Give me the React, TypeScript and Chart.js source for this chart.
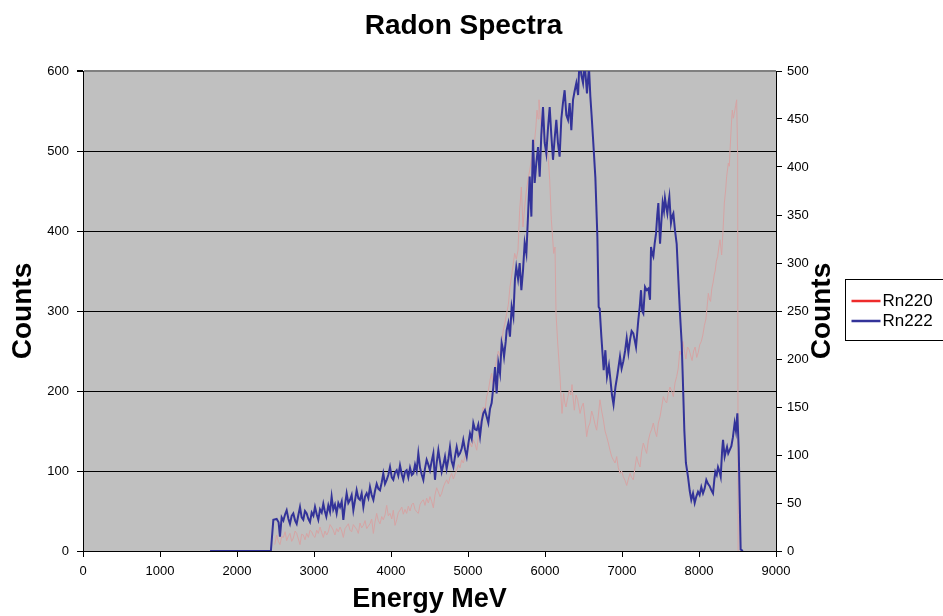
import { useEffect, useRef } from 'react';
import { Chart, registerables } from 'chart.js';

Chart.register(...registerables);

const FONT = "'Liberation Sans', Arial, Helvetica, sans-serif";

const chartTitle = 'Radon Spectra';
const xTitle = 'Energy MeV';
const yTitle = 'Counts';
const seriesNames = ['Rn220', 'Rn222'];

const xMin = 0, xMax = 9000, xStep = 1000;
const yMin = 0, yMax = 600, yStep = 100;
const y2Min = 0, y2Max = 500, y2Step = 50;

// Rn220 spectrum (energy MeV, counts)
const rn220Energy = [
  2490, 2515, 2537, 2558, 2580, 2602, 2625, 2645, 2668, 2688, 2710, 2731, 2755, 2775, 2797, 2818, 2840, 2861, 2883, 2905,
  2927, 2948, 2970, 2992, 3013, 3035, 3056, 3078, 3100, 3121, 3143, 3165, 3186, 3208, 3229, 3250, 3272, 3294, 3316, 3338,
  3360, 3381, 3403, 3424, 3446, 3468, 3489, 3511, 3532, 3554, 3576, 3597, 3619, 3641, 3663, 3684, 3706, 3727, 3749, 3771,
  3792, 3814, 3835, 3857, 3880, 3900, 3922, 3944, 3965, 3987, 4010, 4030, 4052, 4074, 4095, 4117, 4140, 4160, 4182, 4203,
  4225, 4247, 4270, 4290, 4312, 4333, 4355, 4377, 4398, 4420, 4441, 4463, 4485, 4506, 4528, 4550, 4571, 4593, 4615, 4636,
  4658, 4680, 4701, 4723, 4745, 4766, 4788, 4810, 4831, 4853, 4875, 4896, 4918, 4939, 4961, 4983, 5004, 5026, 5048, 5069,
  5091, 5113, 5134, 5156, 5178, 5199, 5220, 5242, 5264, 5286, 5307, 5329, 5351, 5372, 5394, 5416, 5437, 5459, 5480, 5502,
  5524, 5545, 5568, 5590, 5606, 5628, 5649, 5671, 5693, 5714, 5736, 5758, 5779, 5800, 5823, 5845, 5866, 5882, 5896, 5910,
  5922, 5937, 5952, 5974, 5996, 6010, 6026, 6045, 6061, 6082, 6100, 6113, 6130, 6143, 6165, 6195, 6210, 6221, 6242, 6258,
  6273, 6295, 6316, 6335, 6351, 6366, 6381, 6403, 6424, 6440, 6455, 6476, 6498, 6520, 6541, 6562, 6584, 6606, 6628, 6650,
  6671, 6693, 6714, 6736, 6758, 6780, 6801, 6823, 6844, 6866, 6887, 6910, 6931, 6952, 6974, 6995, 7017, 7040, 7061, 7083,
  7104, 7125, 7147, 7168, 7190, 7212, 7234, 7255, 7277, 7299, 7320, 7342, 7364, 7385, 7407, 7428, 7450, 7472, 7494, 7515,
  7537, 7558, 7580, 7602, 7623, 7645, 7667, 7688, 7710, 7730, 7750, 7770, 7790, 7810, 7830, 7850, 7870, 7890, 7910, 7930,
  7950, 7970, 7990, 8010, 8030, 8050, 8070, 8090, 8105, 8121, 8135, 8150, 8166, 8182, 8197, 8210, 8225, 8242, 8258, 8273,
  8294, 8312, 8329, 8345, 8359, 8381, 8394, 8403, 8424, 8433, 8446, 8459, 8476, 8489, 8502, 8508,
];
const rn220Counts = [
  8, 20, 12, 8, 18, 17, 24, 13, 19, 22, 12, 16, 25, 22, 15, 8, 21, 20, 14, 22,
  17, 26, 24, 19, 17, 26, 22, 30, 23, 17, 25, 20, 24, 33, 30, 26, 20, 28, 24, 30,
  25, 17, 28, 31, 34, 26, 24, 33, 30, 27, 22, 35, 29, 32, 38, 28, 31, 34, 40, 22,
  36, 47, 38, 34, 43, 39, 45, 57, 44, 47, 40, 51, 32, 39, 48, 51, 55, 46, 52, 47,
  56, 50, 58, 60, 52, 49, 47, 58, 62, 64, 57, 66, 60, 68, 62, 54, 70, 79, 74, 68,
  72, 80, 85, 89, 84, 92, 97, 90, 96, 101, 108, 104, 114, 110, 118, 122, 128, 135, 130, 139,
  134, 126, 142, 155, 168, 180, 175, 193, 200, 214, 222, 205, 228, 239, 250, 243, 262, 276, 285, 297,
  308, 330, 345, 360, 372, 365, 376, 426, 455, 405, 430, 450, 464, 475, 489, 500, 514, 530, 551, 540,
  564, 545, 530, 522, 518, 512, 505, 488, 464, 414, 390, 372, 380, 297, 260, 218, 190, 172, 197, 185,
  180, 192, 201, 195, 208, 190, 176, 195, 189, 180, 172, 180, 185, 165, 143, 155, 160, 175, 168, 158,
  151, 170, 189, 175, 164, 150, 143, 135, 126, 118, 114, 110, 118, 104, 97, 100, 93, 88, 82, 90,
  97, 92, 89, 104, 118, 110, 105, 124, 135, 128, 122, 138, 147, 152, 160, 150, 143, 160, 168, 180,
  193, 188, 185, 198, 205, 200, 193, 210, 218, 228, 250, 245, 262, 250, 240, 255, 252, 245, 238, 250,
  255, 242, 248, 258, 262, 270, 282, 290, 305, 322, 315, 312, 328, 335, 345, 350, 362, 368, 380, 389,
  370, 400, 435, 450, 468, 485, 481, 501, 539, 551, 541, 547, 557, 564, 497, 0,
];

// Rn222 spectrum (energy MeV, counts)
const rn222Energy = [
  1650, 2440, 2472, 2515, 2540, 2558, 2580, 2602, 2625, 2645, 2668, 2688, 2710, 2731, 2755, 2775, 2797, 2818, 2840, 2861,
  2883, 2905, 2927, 2948, 2970, 2992, 3013, 3035, 3056, 3078, 3100, 3121, 3140, 3160, 3186, 3208, 3229, 3250, 3272, 3294,
  3316, 3338, 3360, 3381, 3403, 3424, 3446, 3468, 3489, 3511, 3532, 3554, 3576, 3597, 3619, 3641, 3663, 3684, 3706, 3727,
  3749, 3771, 3792, 3814, 3835, 3857, 3880, 3900, 3922, 3944, 3965, 3987, 4010, 4030, 4052, 4074, 4095, 4117, 4140, 4160,
  4182, 4203, 4225, 4247, 4270, 4290, 4312, 4333, 4355, 4377, 4398, 4420, 4441, 4463, 4485, 4506, 4528, 4550, 4571, 4593,
  4615, 4636, 4658, 4680, 4701, 4723, 4745, 4766, 4788, 4810, 4831, 4853, 4875, 4896, 4918, 4939, 4961, 4983, 5004, 5026,
  5048, 5069, 5091, 5113, 5134, 5156, 5178, 5199, 5220, 5242, 5264, 5286, 5307, 5329, 5351, 5372, 5394, 5416, 5437, 5459,
  5468, 5490, 5502, 5524, 5545, 5567, 5589, 5610, 5627, 5650, 5671, 5693, 5714, 5736, 5758, 5780, 5801, 5823, 5844, 5866,
  5887, 5910, 5931, 5952, 5974, 5996, 6017, 6040, 6061, 6082, 6104, 6125, 6147, 6168, 6190, 6212, 6233, 6255, 6277, 6299,
  6320, 6342, 6364, 6385, 6407, 6430, 6450, 6472, 6494, 6515, 6545, 6571, 6589, 6605, 6623, 6654, 6680, 6697, 6710, 6732,
  6762, 6784, 6805, 6830, 6850, 6870, 6890, 6915, 6940, 6974, 6995, 7017, 7040, 7061, 7083, 7104, 7125, 7147, 7168, 7182,
  7212, 7230, 7247, 7262, 7277, 7299, 7320, 7342, 7364, 7377, 7392, 7407, 7425, 7442, 7458, 7472, 7494, 7510, 7528, 7545,
  7558, 7575, 7589, 7603, 7615, 7636, 7650, 7667, 7688, 7710, 7732, 7753, 7775, 7790, 7810, 7830, 7857, 7880, 7900, 7922,
  7944, 7965, 7987, 8008, 8030, 8052, 8073, 8095, 8117, 8139, 8160, 8182, 8200, 8212, 8230, 8247, 8265, 8282, 8300, 8312,
  8333, 8350, 8364, 8380, 8398, 8420, 8440, 8463, 8480, 8498, 8515, 8541, 8570,
];
const rn222Counts = [
  0, 0, 39, 40, 36, 18, 42, 38, 46, 51, 40, 34, 44, 47, 38, 34, 45, 55, 42, 39,
  50, 47, 40, 36, 48, 44, 55, 46, 39, 52, 48, 59, 50, 43, 57, 49, 68, 52, 58, 47,
  60, 55, 62, 39, 58, 72, 60, 64, 70, 51, 63, 76, 66, 64, 72, 55, 68, 72, 66, 80,
  70, 64, 75, 84, 78, 76, 86, 97, 84, 89, 95, 105, 92, 89, 98, 101, 94, 107, 96, 89,
  99, 101, 92, 104, 95, 97, 108, 100, 122, 104, 96, 89, 103, 114, 108, 101, 112, 122, 89, 110,
  126, 112, 99, 108, 118, 103, 115, 130, 112, 105, 118, 130, 119, 122, 128, 139, 127, 118, 134, 147,
  140, 160, 152, 151, 158, 143, 162, 172, 176, 168, 160, 178, 185, 205, 230, 197, 235, 222, 260, 250,
  243, 262, 276, 285, 268, 305, 293, 340, 355, 340, 360, 326, 350, 385, 372, 420, 468, 418, 514, 460,
  485, 505, 468, 520, 555, 510, 497, 530, 555, 520, 489, 515, 539, 510, 493, 540, 560, 576, 545, 539,
  560, 526, 564, 575, 585, 570, 620, 595, 585, 610, 572, 605, 568, 545, 517, 467, 393, 305, 303, 268,
  226, 251, 218, 232, 214, 195, 183, 205, 220, 243, 228, 237, 250, 266, 248, 264, 275, 272, 262, 255,
  289, 305, 326, 300, 297, 330, 326, 328, 314, 380, 372, 368, 385, 397, 420, 435, 384, 410, 435, 425,
  441, 430, 422, 435, 443, 410, 418, 422, 401, 384, 339, 297, 260, 215, 150, 110, 93, 75, 64, 72,
  60, 68, 74, 70, 80, 72, 78, 89, 84, 81, 76, 72, 90, 99, 95, 105, 100, 93, 125, 139,
  118, 125, 130, 122, 126, 131, 142, 160, 150, 172, 130, 2, 0,
];

const lineColors = ['#d6a4a4', '#333399'];
const legendColors = ['#ee2b2b', '#333399'];

export default function App() {
  const canvasRef = useRef<HTMLCanvasElement | null>(null);

  useEffect(() => {
    const canvas = canvasRef.current;
    if (!canvas) return;

    const plotBackground = {
      id: 'plotBackground',
      beforeDraw(chart: any) {
        const { ctx, chartArea } = chart;
        ctx.save();
        ctx.fillStyle = '#C0C0C0';
        ctx.fillRect(chartArea.left, chartArea.top, chartArea.right - chartArea.left, chartArea.bottom - chartArea.top);
        ctx.restore();
      },
    };

    const extras = {
      id: 'extras',
      afterDraw(chart: any) {
        const { ctx, chartArea } = chart;
        ctx.save();
        // right axis title
        ctx.fillStyle = '#000';
        ctx.font = `bold 28px ${FONT}`;
        ctx.textAlign = 'center';
        ctx.textBaseline = 'middle';
        ctx.translate(chartArea.right + 46, (chartArea.top + chartArea.bottom) / 2);
        ctx.rotate(-Math.PI / 2);
        ctx.fillText(yTitle, 0, 0);
        ctx.restore();

        // legend box
        ctx.save();
        const lx = 845.5, ly = 279.5;
        ctx.fillStyle = '#ffffff';
        ctx.fillRect(lx, ly, 140, 61);
        ctx.strokeStyle = '#000';
        ctx.lineWidth = 1;
        ctx.strokeRect(lx, ly, 140, 61);
        ctx.font = `17px ${FONT}`;
        ctx.textAlign = 'left';
        ctx.textBaseline = 'middle';
        chart.data.datasets.forEach((ds: any, i: number) => {
          const yy = ly + 21.5 + i * 20;
          ctx.strokeStyle = legendColors[i];
          ctx.lineWidth = 2.5;
          ctx.beginPath();
          ctx.moveTo(lx + 6, yy);
          ctx.lineTo(lx + 35, yy);
          ctx.stroke();
          ctx.fillStyle = '#000';
          ctx.fillText(ds.label, lx + 37, yy);
        });
        ctx.restore();
      },
    };

    const rn220 = rn220Energy.map((e, i) => ({ x: e, y: rn220Counts[i] }));
    const rn222 = rn222Energy.map((e, i) => ({ x: e, y: rn222Counts[i] }));

    const chart = new Chart(canvas, {
      type: 'line',
      data: {
        datasets: [
          {
            label: seriesNames[0],
            data: rn220,
            borderColor: lineColors[0],
            backgroundColor: lineColors[0],
            borderWidth: 1,
            pointRadius: 0,
            tension: 0,
            order: 2,
            yAxisID: 'y',
          },
          {
            label: seriesNames[1],
            data: rn222,
            borderColor: lineColors[1],
            backgroundColor: lineColors[1],
            borderWidth: 2,
            pointRadius: 0,
            tension: 0,
            order: 1,
            yAxisID: 'y',
          },
        ],
      },
      options: {
        responsive: false,
        animation: false,
        devicePixelRatio: 1,
        layout: { padding: { left: 0, right: 16, top: 0, bottom: 0 } },
        plugins: {
          legend: { display: false },
          tooltip: { enabled: false },
          title: {
            display: true,
            text: chartTitle,
            color: '#000',
            font: { family: FONT, size: 28, weight: 'bold', lineHeight: 1.2 },
            padding: { top: 9, bottom: 28.4 },
          },
        },
        scales: {
          x: {
            type: 'linear',
            min: xMin,
            max: xMax,
            afterFit(scale: any) { scale.height = 65; },
            ticks: {
              stepSize: xStep,
              autoSkip: false,
              maxRotation: 0,
              color: '#000',
              padding: 7,
              font: { family: FONT, size: 13 },
              callback: (v: any) => String(v),
            },
            grid: { drawOnChartArea: false, drawTicks: true, tickLength: 6, tickColor: '#000' },
            border: { display: true, color: '#000', width: 1 },
            title: {
              display: true,
              text: xTitle,
              color: '#000',
              font: { family: FONT, size: 27, weight: 'bold', lineHeight: 1.2 },
              padding: { top: 0, bottom: 0 },
            },
          },
          y: {
            type: 'linear',
            position: 'left',
            min: yMin,
            max: yMax,
            afterFit(scale: any) { scale.width = 83; },
            ticks: {
              stepSize: yStep,
              color: '#000',
              padding: 8,
              font: { family: FONT, size: 13 },
              callback: (v: any) => String(v),
            },
            grid: {
              drawOnChartArea: true,
              tickLength: 6,
              tickColor: '#000',
              color: (ctx: any) => (ctx.tick && ctx.tick.value === yMax ? '#808080' : '#000'),
              lineWidth: (ctx: any) => (ctx.tick && ctx.tick.value === yMax ? 2 : 1),
            },
            border: { display: true, color: '#000', width: 1 },
            title: {
              display: true,
              text: yTitle,
              color: '#000',
              font: { family: FONT, size: 28, weight: 'bold', lineHeight: 1.2 },
              padding: { top: 6, bottom: 0 },
            },
          },
          y1: {
            type: 'linear',
            position: 'right',
            min: y2Min,
            max: y2Max,
            afterFit(scale: any) { scale.width = 151; },
            ticks: {
              stepSize: y2Step,
              color: '#000',
              padding: 5,
              font: { family: FONT, size: 13 },
              callback: (v: any) => String(v),
            },
            grid: { drawOnChartArea: false, tickLength: 6, tickColor: '#000' },
            border: { display: true, color: '#000', width: 1 },
          },
        },
      },
      plugins: [plotBackground, extras],
    } as any);

    return () => chart.destroy();
  }, []);

  return (
    <div style={{ position: 'fixed', left: 0, top: 0, width: 943, height: 616, background: '#fff', overflow: 'hidden' }}>
      <canvas ref={canvasRef} width={943} height={616} style={{ display: 'block', width: 943, height: 616 }} />
    </div>
  );
}
